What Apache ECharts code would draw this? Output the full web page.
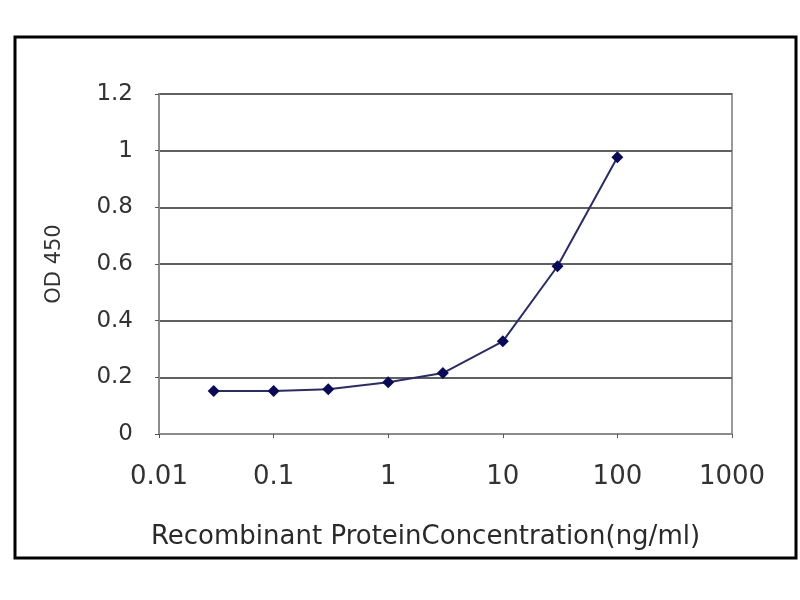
<!DOCTYPE html>
<html>
<head>
<meta charset="utf-8">
<script src="https://cdn.jsdelivr.net/npm/echarts@6/dist/echarts.min.js"></script>
<style>
  html, body { margin: 0; padding: 0; background: #fff; }
  #main { width: 800px; height: 600px; }
</style>
</head>
<body>
<div id="main"></div>
<script>
// concentration (ng/ml) and OD 450 readings
var conc = [0.03, 0.1, 0.3, 1, 3, 10, 30, 100];
var od = [0.152, 0.152, 0.158, 0.183, 0.215, 0.327, 0.592, 0.977];
var xTicks = [0.01, 0.1, 1, 10, 100, 1000];
var yTicks = [0, 0.2, 0.4, 0.6, 0.8, 1, 1.2];

var points = [];
for (var i = 0; i < conc.length; i++) {
    points.push([conc[i], od[i]]);
}

var font = 'DejaVu Sans';
var myChart = echarts.init(document.getElementById('main'));
var option = {
    backgroundColor: '#fff',
    animation: false,
    graphic: [{
        type: 'rect',
        shape: {x: 15, y: 37, width: 781, height: 521},
        style: {fill: 'none', stroke: '#000', lineWidth: 3}
    }],
    grid: {
        left: 159, right: 68, top: 94, bottom: 166,
        show: true, borderColor: '#9a9a9a', borderWidth: 2
    },
    xAxis: {
        type: 'log',
        logBase: 10,
        min: xTicks[0],
        max: xTicks[xTicks.length - 1],
        name: 'Recombinant ProteinConcentration(ng/ml)',
        nameLocation: 'middle',
        nameGap: 90,
        nameTextStyle: {fontFamily: font, fontSize: 26, color: '#2a2a2a', padding: [0, 40, 0, 0]},
        axisLine: {lineStyle: {color: '#8c8c8c', width: 2}},
        axisTick: {show: true, length: 4, lineStyle: {color: '#555'}},
        axisLabel: {
            margin: 30,
            fontFamily: font, fontSize: 26, color: '#333',
            formatter: function (v) { return String(v); }
        },
        splitLine: {show: false}
    },
    yAxis: {
        type: 'value',
        min: yTicks[0],
        max: yTicks[yTicks.length - 1],
        interval: 0.2,
        name: 'OD 450',
        nameLocation: 'middle',
        nameGap: 94,
        nameTextStyle: {fontFamily: font, fontSize: 21, color: '#333'},
        axisLine: {show: true, lineStyle: {color: '#8c8c8c', width: 2}},
        axisTick: {show: true, length: 4, lineStyle: {color: '#555'}},
        axisLabel: {margin: 26, fontFamily: font, fontSize: 23, color: '#333'},
        splitLine: {lineStyle: {color: '#606060', width: 2}}
    },
    series: [{
        type: 'line',
        data: points,
        symbol: 'diamond',
        symbolSize: 12,
        itemStyle: {color: '#0a0a5a'},
        lineStyle: {color: '#2a2a70', width: 2}
    }]
};
myChart.setOption(option);
</script>
</body>
</html>
